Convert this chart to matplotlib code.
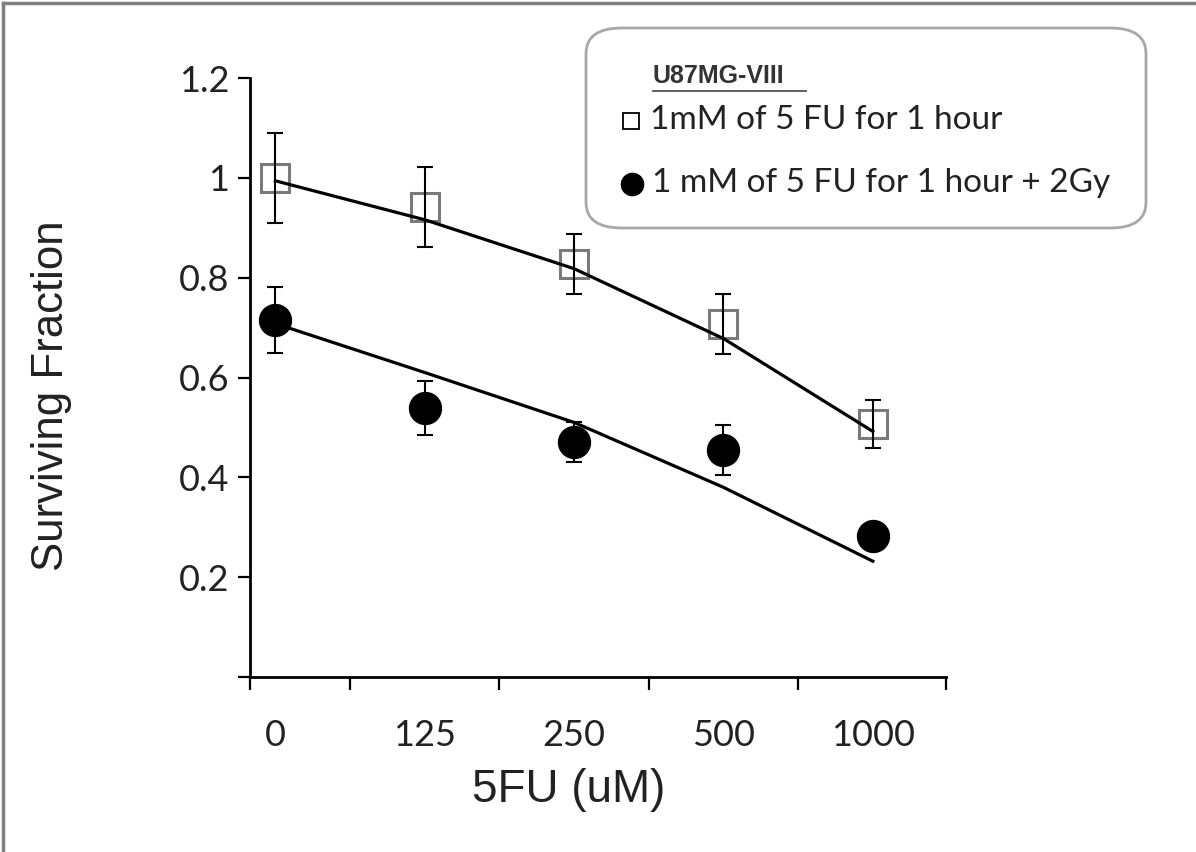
import matplotlib.pyplot as plt
from matplotlib.patches import FancyBboxPatch
from matplotlib.lines import Line2D

# Dados
doses = ['0', '125', '250', '500', '1000']
sf_5fu = [1.0, 0.942, 0.828, 0.708, 0.506]
err_5fu = [0.09, 0.08, 0.06, 0.06, 0.048]
fit_5fu = [0.994, 0.916, 0.818, 0.678, 0.492]
sf_5fu_2gy = [0.716, 0.538, 0.470, 0.454, 0.282]
err_5fu_2gy = [0.066, 0.054, 0.04, 0.05, 0.02]
fit_5fu_2gy = [0.708, 0.61, 0.51, 0.38, 0.232]

x = list(range(len(doses)))

fig = plt.figure(figsize=(11.96, 8.52), dpi=100)
ax = fig.add_axes([250 / 1196, 1 - 677 / 852, 696 / 1196, 599 / 852])

# Barras de erro + marcadores
ax.errorbar(x, sf_5fu, yerr=err_5fu, fmt='none', ecolor='black',
            elinewidth=1.5, capsize=5.5, capthick=1.5, zorder=3)
ax.plot(x, sf_5fu, 's', markersize=20, markerfacecolor='none',
        markeredgecolor='#7a7a7a', markeredgewidth=2.2, zorder=2)
ax.errorbar(x, sf_5fu_2gy, yerr=err_5fu_2gy, fmt='none', ecolor='black',
            elinewidth=1.5, capsize=5.5, capthick=1.5, zorder=3)
ax.plot(x, sf_5fu_2gy, 'o', markersize=23, color='black', zorder=4)

# Linhas de ajuste
ax.plot(x, fit_5fu, color='black', lw=2.3, zorder=5)
ax.plot(x, fit_5fu_2gy, color='black', lw=2.3, zorder=5)

# Eixos
ax.set_ylim(0, 1.2)
ax.set_xlim(-0.17, 4.49)
ax.set_yticks([0, 0.2, 0.4, 0.6, 0.8, 1.0, 1.2])
ax.set_yticklabels(['', '0.2', '0.4', '0.6', '0.8', '1', '1.2'])
ax.set_xticks([-0.17, 0.5, 1.5, 2.5, 3.5, 4.49])
ax.set_xticklabels([])
ax.set_xticks(x, minor=True)
ax.set_xticklabels(doses, minor=True)
ax.tick_params(axis='x', which='minor', length=0, pad=30)
ax.tick_params(axis='both', which='major', direction='out', length=9,
               width=1.6, color='black')
for lab in ax.get_yticklabels() + ax.get_xticklabels(minor=True):
    lab.set_fontfamily('Lato')
    lab.set_fontsize(26)
    lab.set_color('#222222')
ax.tick_params(axis='y', pad=6)

for s in ['top', 'right']:
    ax.spines[s].set_visible(False)
for s in ['left', 'bottom']:
    ax.spines[s].set_linewidth(2)

ax.set_ylabel('Surviving Fraction', fontsize=31.5, family='Liberation Sans',
              color='#222222')
ax.yaxis.set_label_coords(-0.256, 0.47)
ax.set_xlabel('5FU (uM)', fontsize=33, family='Liberation Sans',
              color='#222222')
ax.xaxis.set_label_coords(0.458, -0.152)

# Legenda manual
W, H = 1196, 852
box = FancyBboxPatch((586 / W, 1 - 228 / H), 560 / W, 200 / H,
                     boxstyle='round,pad=0,rounding_size=0.03',
                     transform=fig.transFigure, facecolor='white',
                     edgecolor='#a8a8a8', lw=2, zorder=10)
fig.patches.append(box)
fig.text(653 / W, 1 - 76 / H, 'U87MG-VIII', fontsize=18, fontweight='bold',
         family='Liberation Sans', color='#333333', va='center', ha='left',
         zorder=11)
fig.add_artist(Line2D([653 / W, 806 / W], [1 - 91 / H, 1 - 91 / H],
                      color='#555555', lw=1.3, transform=fig.transFigure,
                      zorder=11))
fig.add_artist(Line2D([631 / W], [1 - 121 / H], marker='s', markersize=12,
                      markerfacecolor='white', markeredgecolor='black',
                      markeredgewidth=1.3, transform=fig.transFigure,
                      zorder=11))
fig.add_artist(Line2D([632 / W], [1 - 184 / H], marker='o', markersize=16,
                      color='black', transform=fig.transFigure, zorder=11))
fig.text(650 / W, 1 - 120 / H, '1mM of 5 FU for 1 hour', fontsize=24,
         family='Lato', color='#222222', va='center', ha='left', zorder=11)
fig.text(652 / W, 1 - 183 / H, '1 mM of 5 FU for 1 hour + 2Gy', fontsize=24,
         family='Lato', color='#222222', va='center', ha='left', zorder=11)

# Borda da figura (só topo e esquerda visíveis)
fig.add_artist(Line2D([3 / W, 3 / W], [0, 1 - 3 / H], color='#808080', lw=2.5,
                      transform=fig.transFigure))
fig.add_artist(Line2D([3 / W, 1], [1 - 3 / H, 1 - 3 / H], color='#808080', lw=2.5,
                      transform=fig.transFigure))

fig.savefig('out.png', dpi=100)
